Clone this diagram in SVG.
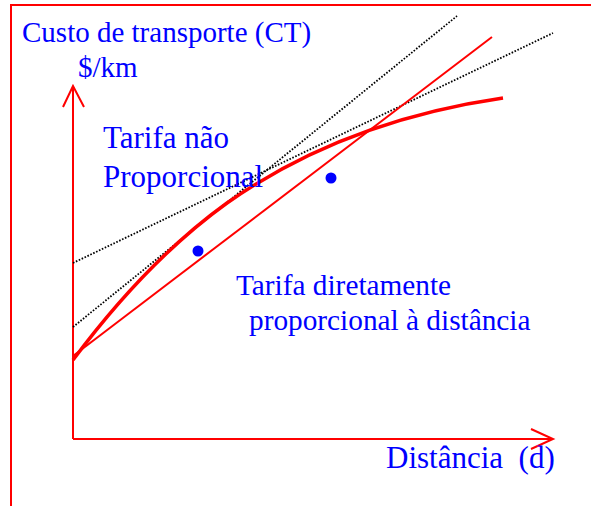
<svg xmlns="http://www.w3.org/2000/svg" width="591" height="506" viewBox="0 0 591 506">
<style>
.t{font-family:"Liberation Serif","Times New Roman",serif;fill:#0000FF;white-space:pre}
.red{stroke:#FF0000;fill:none;stroke-width:2}
.dot{stroke:#000;fill:none;stroke-width:1.8;stroke-dasharray:1.6 1.6}
</style>
<rect x="11" y="5" width="600" height="600" fill="#fff" class="red"/>
<g id="connectors">
<path id="y-axis" class="red" d="M73,439 V86 M63,107 L73,86 L84,107"/>
<path id="x-axis" class="red" d="M73,439 H553 M531,429 L553,439 L531,449"/>
<line id="tangent1" class="dot" x1="73" y1="327" x2="457" y2="16"/>
<line id="tangent2" class="dot" x1="73" y1="263" x2="553" y2="33"/>
<line id="proportional" class="red" x1="73" y1="356" x2="492" y2="37"/>
<path id="nonproportional" class="red" style="stroke-width:3.5" d="M73,360 C123,293 177,239 227,203 C317,140 413,111 503,98"/>
</g>
<g id="points">
<circle cx="198" cy="251" r="5.5" fill="#0000FF"/>
<circle cx="331" cy="178" r="5.5" fill="#0000FF"/>
</g>
<g id="labels">
<text class="t" x="22" y="42" font-size="29">Custo de transporte (CT)</text>
<text class="t" x="78" y="77" font-size="29">$/km</text>
<text class="t" x="103" y="148" font-size="31">Tarifa não</text>
<text class="t" x="103" y="187" font-size="31">Proporcional</text>
<text class="t" x="236" y="295" font-size="29.3">Tarifa diretamente</text>
<text class="t" x="249" y="330" font-size="29.3">proporcional à distância</text>
<text class="t" x="386" y="468" font-size="31">Distância  (d)</text>
</g>
</svg>
